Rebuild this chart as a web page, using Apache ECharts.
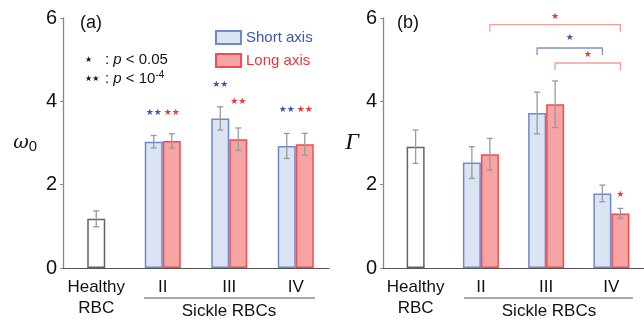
<!DOCTYPE html>
<html>
<head>
<meta charset="UTF-8">
<title>omega0 and Gamma</title>
<script src="https://cdn.jsdelivr.net/npm/echarts@6/dist/echarts.min.js"></script>
<style>
  html,body{margin:0;padding:0;background:#fff;}
  #chart{width:644px;height:321px;}
</style>
</head>
<body>
<div id="chart"></div>
<script>
// data
var categories = ['Healthy\nRBC', 'II', 'III', 'IV'];
var yTicks = [0, 2, 4, 6];

// (a) omega_0
var w0Healthy    = [1.18, null, null, null];
var w0HealthyErr = [0.19, null, null, null];
var w0Short      = [null, 3.03, 3.59, 2.93];
var w0ShortErr   = [null, 0.15, 0.28, 0.30];
var w0Long       = [null, 3.05, 3.09, 2.97];
var w0LongErr    = [null, 0.17, 0.27, 0.26];
var w0StarShort  = [null, 3.74, 4.40, 3.79];
var w0StarLong   = [null, 3.74, 4.00, 3.79];

// (b) Gamma
var gHealthy    = [2.91, null, null, null];
var gHealthyErr = [0.40, null, null, null];
var gShort      = [null, 2.53, 3.72, 1.79];
var gShortErr   = [null, 0.38, 0.50, 0.20];
var gLong       = [null, 2.73, 3.93, 1.31];
var gLongErr    = [null, 0.38, 0.56, 0.12];
var gStarLong   = [null, null, null, 1.75];
// brackets: from category, to category, which bar (-1 short, 1 long), y, star y
var gBrackets = [
  [1, 3, 1, 5.84, 6.04],
  [2, 3, -1, 5.28, 5.52],
  [2, 3, 1, 4.92, 5.13]
];

var FONT = 'Liberation Sans, Arial, sans-serif';
var BLUE_FILL = '#dae4f2', BLUE_LINE = '#7088cf', BLUE_TXT = '#3c55b0';
var RED_FILL = '#f6a4a4', RED_LINE = '#f24c4c', RED_TXT = '#f03535';
var BRK_RED = '#f59c9c', BRK_BLUE = '#8092d2';
var BAR_W = 18, HALF = 9;

function errData(vals, errs) {
  var out = [];
  vals.forEach(function (v, i) { if (v != null) out.push([i, v, errs[i]]); });
  return out;
}
function starData(vals) {
  var out = [];
  vals.forEach(function (v, i) { if (v != null) out.push([i, v]); });
  return out;
}

function errSeries(grid, vals, errs, shift) {
  return {
    type: 'custom', xAxisIndex: grid * 2, yAxisIndex: grid, z: 10,
    data: errData(vals, errs),
    renderItem: function (params, api) {
      var c = api.coord([api.value(0), api.value(1) + api.value(2)]);
      var d = api.coord([api.value(0), api.value(1) - api.value(2)]);
      var x = c[0] + shift;
      var st = { stroke: '#999', lineWidth: 1.3 };
      return { type: 'group', children: [
        { type: 'line', shape: { x1: x, y1: c[1], x2: x, y2: d[1] }, style: st },
        { type: 'line', shape: { x1: x - 3, y1: c[1], x2: x + 3, y2: c[1] }, style: st },
        { type: 'line', shape: { x1: x - 3, y1: d[1], x2: x + 3, y2: d[1] }, style: st }
      ] };
    }
  };
}

function starSeries(grid, vals, shift, txt, color) {
  return {
    type: 'custom', xAxisIndex: grid * 2, yAxisIndex: grid, z: 10,
    data: starData(vals),
    renderItem: function (params, api) {
      var p = api.coord([api.value(0), api.value(1)]);
      return { type: 'text', x: p[0] + shift, y: p[1],
        style: { text: txt, fill: color, font: '9px DejaVu Sans', align: 'center', verticalAlign: 'middle' } };
    }
  };
}

function bracketSeries(grid, data) {
  return {
    type: 'custom', xAxisIndex: grid * 2, yAxisIndex: grid, z: 10,
    data: data,
    renderItem: function (params, api) {
      var side = api.value(2);
      var a = api.coord([api.value(0), api.value(3)]);
      var b = api.coord([api.value(1), api.value(3)]);
      var s = api.coord([api.value(0), api.value(4)]);
      var x1 = a[0] + side * HALF, x2 = b[0] + side * HALF;
      var col = side < 0 ? BRK_BLUE : BRK_RED;
      var st = { stroke: col, lineWidth: 1.3, fill: null };
      return { type: 'group', children: [
        { type: 'polyline', shape: { points: [[x1, a[1] + 7], [x1, a[1]], [x2, a[1]], [x2, a[1] + 7]] }, style: st },
        { type: 'text', x: (x1 + x2) / 2, y: s[1],
          style: { text: '★', fill: side < 0 ? BLUE_TXT : RED_TXT, font: '9px DejaVu Sans', align: 'center', verticalAlign: 'middle' } }
      ] };
    }
  };
}

function panelAxes(grid) {
  var x = {
    type: 'category', gridIndex: grid, data: categories,
    axisLine: { lineStyle: { color: '#555', width: 1.2 } },
    axisTick: { show: false },
    axisLabel: { interval: 0, color: '#111', fontSize: 17, fontFamily: FONT, lineHeight: 21, margin: 9 }
  };
  var xHidden = {
    type: 'category', gridIndex: grid, data: categories, show: false
  };
  var y = {
    type: 'value', gridIndex: grid, min: 0, max: 6, interval: 2,
    axisLine: { show: true, lineStyle: { color: '#888', width: 1.3 } },
    axisTick: { show: true, length: 3, lineStyle: { color: '#888' } },
    splitLine: { show: false },
    axisLabel: { color: '#111', fontSize: 20, fontFamily: FONT, margin: 6,
      formatter: function (v) { return yTicks.indexOf(v) >= 0 ? String(v) : ''; } },
    nameLocation: 'middle', nameRotate: 0
  };
  return { x: [x, xHidden], y: y };
}

var a = panelAxes(0), b = panelAxes(1);
a.y.nameGap = 26;
a.y.name = '{w|ω}{s|0}';
a.y.nameTextStyle = { rich: {
  w: { fontFamily: 'DejaVu Serif', fontStyle: 'italic', fontSize: 19, color: '#111' },
  s: { fontFamily: FONT, fontSize: 15, color: '#111', padding: [8, 0, 0, 0] } } };
b.y.nameGap = 24;
b.y.name = 'Γ';
b.y.nameTextStyle = { fontFamily: 'Liberation Serif', fontStyle: 'italic', fontSize: 24, color: '#111' };

function bars(grid, healthy, shortV, longV) {
  return [
    { type: 'bar', name: 'Healthy', xAxisIndex: grid * 2 + 1, yAxisIndex: grid, data: healthy,
      barWidth: BAR_W, itemStyle: { color: '#fff', borderColor: '#6a6262', borderWidth: 1.5 } },
    { type: 'bar', name: 'Short axis', xAxisIndex: grid * 2, yAxisIndex: grid, data: shortV,
      barWidth: BAR_W, barGap: '0%', itemStyle: { color: BLUE_FILL, borderColor: BLUE_LINE, borderWidth: 1.5 } },
    { type: 'bar', name: 'Long axis', xAxisIndex: grid * 2, yAxisIndex: grid, data: longV,
      barWidth: BAR_W, barGap: '0%', itemStyle: { color: RED_FILL, borderColor: RED_LINE, borderWidth: 1.5 } }
  ];
}

var series = [].concat(
  bars(0, w0Healthy, w0Short, w0Long),
  [errSeries(0, w0Healthy, w0HealthyErr, 0),
   errSeries(0, w0Short, w0ShortErr, -HALF),
   errSeries(0, w0Long, w0LongErr, HALF),
   starSeries(0, w0StarShort, -HALF, '★★', BLUE_TXT),
   starSeries(0, w0StarLong, HALF, '★★', RED_TXT)],
  bars(1, gHealthy, gShort, gLong),
  [errSeries(1, gHealthy, gHealthyErr, 0),
   errSeries(1, gShort, gShortErr, -HALF),
   errSeries(1, gLong, gLongErr, HALF),
   starSeries(1, gStarLong, HALF, '★', RED_TXT),
   bracketSeries(1, gBrackets)]
);

function groupLine(x1, x2, cx) {
  return [
    { type: 'line', shape: { x1: x1, y1: 298, x2: x2, y2: 298 }, style: { stroke: '#555', lineWidth: 1 } },
    { type: 'text', x: cx, y: 311, style: { text: 'Sickle RBCs', font: '17px ' + FONT, fill: '#111', align: 'center', verticalAlign: 'middle' } }
  ];
}

var option = {
  animation: false,
  grid: [
    { left: 63, top: 18, width: 266, height: 250 },
    { left: 383, top: 18, width: 264, height: 250 }
  ],
  xAxis: [a.x[0], a.x[1], b.x[0], b.x[1]],
  yAxis: [a.y, b.y],
  legend: {
    left: 215, top: 30, orient: 'vertical', itemWidth: 25, itemHeight: 13, itemGap: 8, padding: 0,
    selectedMode: false,
    data: [
      { name: 'Short axis', icon: 'rect', textStyle: { color: BLUE_TXT } },
      { name: 'Long axis', icon: 'rect', textStyle: { color: RED_TXT } }
    ],
    textStyle: { fontSize: 15, fontFamily: FONT }
  },
  graphic: [].concat(
    groupLine(144, 315, 229),
    groupLine(464, 633, 549),
    [
      { type: 'text', x: 80, y: 14, style: { text: '(a)', font: '18px ' + FONT, fill: '#111' } },
      { type: 'text', x: 397, y: 14, style: { text: '(b)', font: '18px ' + FONT, fill: '#111' } },
      { type: 'text', x: 85, y: 52, style: {
        text: '{st|★}{n|: }{p|p}{n| < 0.05}',
        rich: {
          st: { font: '8px DejaVu Sans', fill: '#111', width: 20 },
          n: { font: '15px ' + FONT, fill: '#111' },
          p: { font: 'italic 15px ' + FONT, fill: '#111' }
        } } },
      { type: 'text', x: 85, y: 70, style: {
        text: '{st|★★}{n|: }{p|p}{n| < 10}{sup|-4}',
        rich: {
          st: { font: '8px DejaVu Sans', fill: '#111', width: 20 },
          n: { font: '15px ' + FONT, fill: '#111' },
          p: { font: 'italic 15px ' + FONT, fill: '#111' },
          sup: { font: '10px ' + FONT, fill: '#111', verticalAlign: 'top', padding: [0, 0, 8, 0] }
        } } }
    ]
  ),
  series: series
};

var chart = echarts.init(document.getElementById('chart'));
chart.setOption(option);
</script>
</body>
</html>
